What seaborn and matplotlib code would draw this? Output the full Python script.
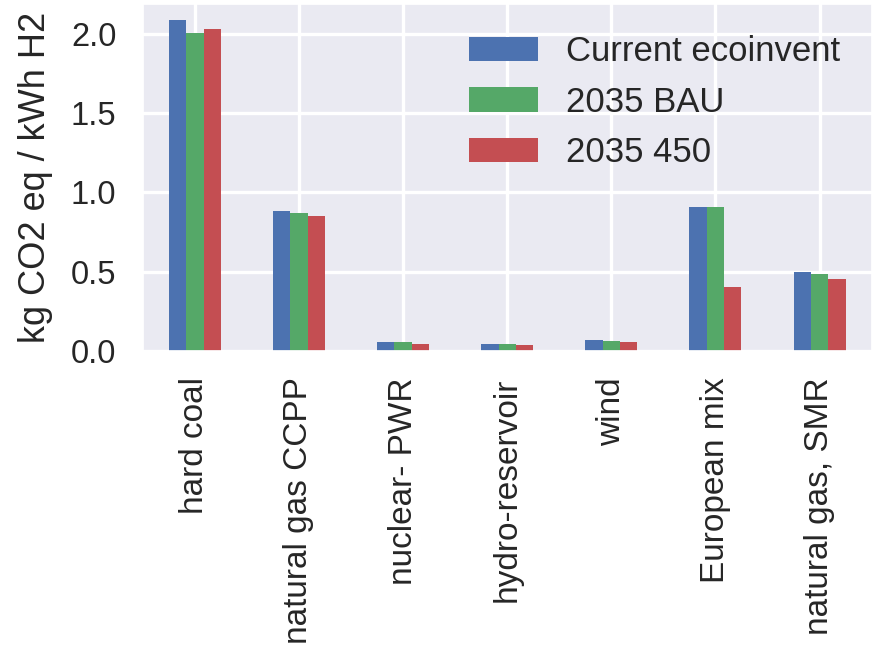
import numpy as np
import pandas as pd
import matplotlib
matplotlib.use("Agg")
import matplotlib.pyplot as plt
import seaborn as sns

categories = ["hard coal", "natural gas CCPP", "nuclear- PWR", "hydro-reservoir",
              "wind", "European mix", "natural gas, SMR"]
series_names = ["Current ecoinvent", "2035 BAU", "2035 450"]
current_ecoinvent = [2.083, 0.879, 0.054, 0.046, 0.070, 0.907, 0.497]
bau_2035 = [2.003, 0.871, 0.053, 0.042, 0.062, 0.907, 0.487]
s450_2035 = [2.030, 0.852, 0.041, 0.039, 0.053, 0.402, 0.453]
colors = ["#4C72B0", "#55A868", "#C44E52"]
yticks = [0.0, 0.5, 1.0, 1.5, 2.0]

rows = []
for name, vals in zip(series_names, [current_ecoinvent, bau_2035, s450_2035]):
    for c, v in zip(categories, vals):
        rows.append({"category": c, "series": name, "value": v})
df = pd.DataFrame(rows)

sns.set_theme(style="darkgrid")
plt.rcParams["font.family"] = ["Liberation Sans", "DejaVu Sans"]
plt.rcParams["grid.linewidth"] = 2.4

fig = plt.figure(figsize=(8.76, 6.57), dpi=100)
ax = fig.add_axes([0.163, 0.466, 0.832, 0.528])

sns.barplot(data=df, x="category", y="value", hue="series", order=categories,
            hue_order=series_names, palette=colors, width=0.5, saturation=1,
            errorbar=None, linewidth=0, ax=ax)

ax.set_xlabel("")
ax.set_ylabel("kg CO2 eq / kWh H2", fontsize=26, labelpad=13)
ax.set_yticks(yticks)
ax.set_yticklabels([f"{t:.1f}" for t in yticks])
ax.tick_params(axis="y", labelsize=23.5, pad=19, length=0)
ax.tick_params(axis="x", labelsize=24, pad=19, length=0, labelrotation=90)
ax.set_xlim(-0.5, len(categories) - 0.5)
ax.grid(True, axis="both", color="white", linewidth=2.4)

ax.legend(title=None, loc="upper right", fontsize=25, frameon=False)

fig.savefig("out.png", dpi=100)
